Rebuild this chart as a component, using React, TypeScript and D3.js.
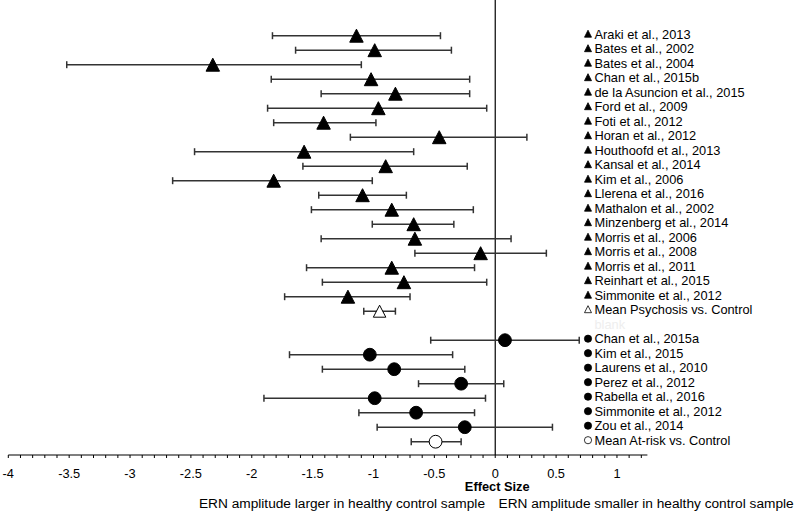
import React from "react";
import * as d3 from "d3";

const psychStudies = ["Araki et al., 2013","Bates et al., 2002","Bates et al., 2004","Chan et al., 2015b","de la Asuncion et al., 2015","Ford et al., 2009","Foti et al., 2012","Horan et al., 2012","Houthoofd et al., 2013","Kansal et al., 2014","Kim et al., 2006","Llerena et al., 2016","Mathalon et al., 2002","Minzenberg et al., 2014","Morris et al., 2006","Morris et al., 2008","Morris et al., 2011","Reinhart et al., 2015","Simmonite et al., 2012"];
const psychEffect = [-1.14,-0.99,-2.32,-1.02,-0.82,-0.96,-1.41,-0.46,-1.57,-0.90,-1.82,-1.09,-0.85,-0.67,-0.66,-0.12,-0.85,-0.75,-1.21];
const psychLower = [-1.83,-1.64,-3.52,-1.84,-1.43,-1.87,-1.82,-1.19,-2.47,-1.58,-2.65,-1.45,-1.51,-1.01,-1.43,-0.66,-1.55,-1.42,-1.73];
const psychUpper = [-0.45,-0.36,-1.10,-0.21,-0.21,-0.07,-0.98,0.26,-0.67,-0.23,-1.01,-0.73,-0.18,-0.34,0.13,0.42,-0.17,-0.07,-0.70];
const psychMeanLabel = "Mean Psychosis vs. Control";
const psychMean = [-0.95, -1.08, -0.82];

const riskStudies = ["Chan et al., 2015a","Kim et al., 2015","Laurens et al., 2010","Perez et al., 2012","Rabella et al., 2016","Simmonite et al., 2012","Zou et al., 2014"];
const riskEffect = [0.08,-1.03,-0.83,-0.28,-0.99,-0.65,-0.25];
const riskLower = [-0.53,-1.69,-1.42,-0.63,-1.90,-1.12,-0.97];
const riskUpper = [0.69,-0.35,-0.25,0.07,-0.08,-0.17,0.47];
const riskMeanLabel = "Mean At-risk vs. Control";
const riskMean = [-0.49, -0.69, -0.28];

const tickLabels = [-4,-3.5,-3,-2.5,-2,-1.5,-1,-0.5,0,0.5,1];
const xTitle = "Effect Size";
const leftNote = "ERN amplitude larger in healthy control sample";
const rightNote = "ERN amplitude smaller in healthy control sample";

type Row = { key: string; label: string; est?: number; lo?: number; hi?: number; shape: string; filled: boolean; faint?: boolean };

const rows: Row[] = [
  ...psychStudies.map((s, i) => ({ key: "p" + i, label: s, est: psychEffect[i], lo: psychLower[i], hi: psychUpper[i], shape: "tri", filled: true })),
  { key: "pm", label: psychMeanLabel, est: psychMean[0], lo: psychMean[1], hi: psychMean[2], shape: "tri", filled: false },
  { key: "blank", label: "blank", shape: "none", filled: false, faint: true },
  ...riskStudies.map((s, i) => ({ key: "r" + i, label: s, est: riskEffect[i], lo: riskLower[i], hi: riskUpper[i], shape: "circle", filled: true })),
  { key: "rm", label: riskMeanLabel, est: riskMean[0], lo: riskMean[1], hi: riskMean[2], shape: "circle", filled: false },
];

const FONT = "Arial, 'Liberation Sans', Helvetica, sans-serif";

function triPath(cx: number, cy: number, w: number, h: number) {
  const p = d3.path();
  p.moveTo(cx, cy - h / 2);
  p.lineTo(cx + w / 2, cy + h / 2);
  p.lineTo(cx - w / 2, cy + h / 2);
  p.closePath();
  return p.toString();
}

export default function App() {
  const x = d3.scaleLinear().domain([-4, 1.25]).range([8.3, 647.4]);
  const y = d3.scalePoint<string>().domain(rows.map(r => r.key)).range([35.7, 441.7]);
  const axisY = 455;
  const minor = d3.range(-40, 13).map(v => v / 10);
  const legendX = 588;

  return (
    <svg width={800} height={515} style={{ position: "absolute", left: 0, top: 0, background: "#fff" }} fontFamily={FONT}>
      <line x1={x(0)} x2={x(0)} y1={0} y2={axisY} stroke="#000" strokeWidth={1.2} />
      {rows.filter(r => r.est !== undefined).map(r => {
        const cy = y(r.key)!;
        return (
          <g key={r.key}>
            <line x1={x(r.lo!)} x2={x(r.hi!)} y1={cy} y2={cy} stroke="#333" strokeWidth={1.5} />
            <line x1={x(r.lo!)} x2={x(r.lo!)} y1={cy - 3.5} y2={cy + 3.5} stroke="#333" strokeWidth={1.5} />
            <line x1={x(r.hi!)} x2={x(r.hi!)} y1={cy - 3.5} y2={cy + 3.5} stroke="#333" strokeWidth={1.5} />
            {r.shape === "tri" ? (
              <path d={triPath(x(r.est!), cy, r.filled ? 13.5 : 12.5, r.filled ? 13 : 12)} fill={r.filled ? "#000" : "#fff"} stroke="#000" strokeWidth={1} />
            ) : (
              <circle cx={x(r.est!)} cy={cy} r={6.4} fill={r.filled ? "#000" : "#fff"} stroke="#000" strokeWidth={1} />
            )}
          </g>
        );
      })}
      {rows.map(r => {
        const cy = y(r.key)! - 1.5;
        return (
          <g key={"l" + r.key}>
            {r.shape === "tri" && <path d={triPath(legendX, cy - 0.5, 7, 7)} fill={r.filled ? "#000" : "#fff"} stroke="#000" strokeWidth={0.8} />}
            {r.shape === "circle" && <circle cx={legendX} cy={cy} r={3.6} fill={r.filled ? "#000" : "#fff"} stroke="#000" strokeWidth={0.8} />}
            <text x={legendX + 6.5} y={cy} dy="0.35em" fontSize={12.8} fill={r.faint ? "#eeeeee" : "#000"}>{r.label}</text>
          </g>
        );
      })}
      <line x1={x(-4)} x2={x(1.25)} y1={axisY} y2={axisY} stroke="#000" strokeWidth={1.2} />
      {minor.map(v => (
        <line key={"t" + v} x1={x(v)} x2={x(v)} y1={axisY} y2={axisY + 3} stroke="#000" strokeWidth={1} />
      ))}
      {tickLabels.map(v => (
        <text key={"tl" + v} x={x(v)} y={473.5} dy="0.35em" textAnchor="middle" fontSize={12.8}>{v}</text>
      ))}
      <text x={x(0) + 2} y={487} dy="0.35em" textAnchor="middle" fontSize={12.8} fontWeight="bold">{xTitle}</text>
      <text x={485} y={503} dy="0.35em" textAnchor="end" fontSize={13.7}>{leftNote}</text>
      <text x={498.5} y={503} dy="0.35em" textAnchor="start" fontSize={13.7}>{rightNote}</text>
    </svg>
  );
}
